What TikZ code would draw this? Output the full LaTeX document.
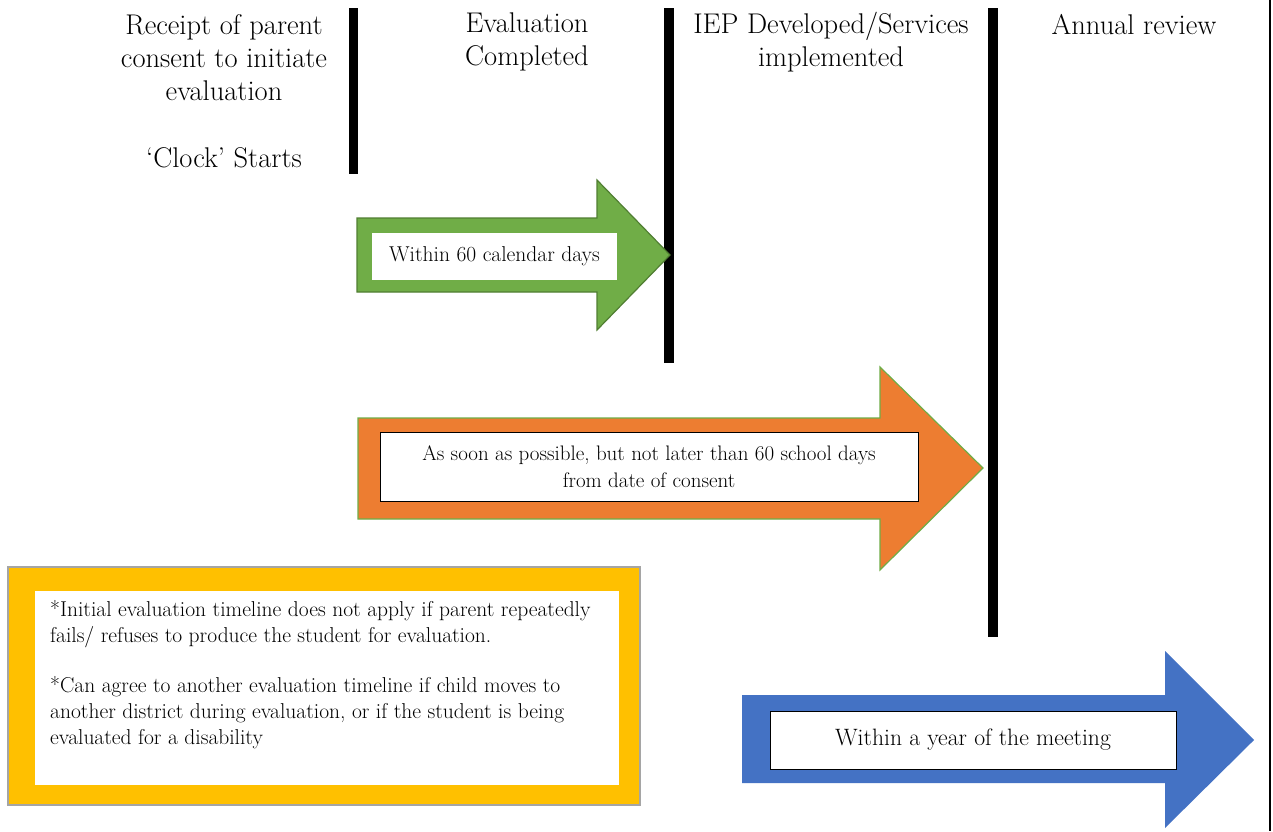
\documentclass[tikz,border=0pt]{standalone}
\usepackage{fontspec}
\definecolor{ggreen}{HTML}{70AD47}
\definecolor{dgreen}{HTML}{507E32}
\definecolor{gorange}{HTML}{ED7D31}
\definecolor{gblue}{HTML}{4472C4}
\definecolor{gyellow}{HTML}{FFC000}
\definecolor{ggray}{HTML}{A5A5A5}
\begin{document}
\begin{tikzpicture}[x=1pt,y=-1pt,
  title/.style={align=center,font=\fontsize{28.5}{33}\selectfont,inner sep=0pt},
  bar/.style={line width=10pt},
  label/.style={fill=white,draw=black,line width=1pt,inner sep=0pt,align=center},
  note/.style={align=left,font=\fontsize{21.5}{26}\selectfont,inner sep=0pt,anchor=north west}]
\useasboundingbox (0,0) rectangle (1273,831);
\fill[white] (0,0) rectangle (1273,831);
% vertical bars
\coordinate (b1t) at (353,8); \coordinate (b1b) at (353,174);
\coordinate (b2t) at (669,8); \coordinate (b2b) at (669,363);
\coordinate (b3t) at (993,8); \coordinate (b3b) at (993,637);
\coordinate (b4t) at (1270,0); \coordinate (b4b) at (1270,831);
\draw[line width=9pt] (b1t) -- (b1b);
\draw[bar] (b2t) -- (b2b);
\draw[bar] (b3t) -- (b3b);
\draw[line width=2pt] (b4t) -- (b4b);
% titles
\node[title] (t1) at (224,58) {Receipt of parent\\consent to initiate\\evaluation};
\node[title] (t1b) at (224,158) {‘Clock’ Starts};
\node[title] (t2) at (527,42) {Evaluation\\Completed};
\node[title] (t3) at (831,42) {IEP Developed/Services\\implemented};
\node[title] (t4) at (1134,25) {Annual review};
% green arrow
\filldraw[fill=ggreen,draw=dgreen,line width=1.2pt]
  (357,218) -- (597,218) -- (597,180) -- (670,255) -- (597,330) -- (597,292) -- (357,292) -- cycle;
\node[fill=white,minimum width=245pt,minimum height=47pt,inner sep=0pt,font=\fontsize{21.5}{25}\selectfont] (g) at (494.5,256.5) {Within 60 calendar days};
% orange arrow
\filldraw[fill=gorange,draw=ggreen,line width=1.2pt]
  (358,418) -- (880,418) -- (880,367) -- (983,468) -- (880,570) -- (880,519) -- (358,519) -- cycle;
\node[label,minimum width=538pt,minimum height=69pt,font=\fontsize{21}{27}\selectfont] (o) at (649,466.5) {As soon as possible, but not later than 60 school days\\from date of consent};
% yellow box
\filldraw[fill=gyellow,draw=ggray,line width=2pt] (8,567) rectangle (640,805);
\fill[white] (35,591) rectangle (619,785);
\node[note] (n1) at (50,600) {*Initial evaluation timeline does not apply if parent repeatedly\\fails/ refuses to produce the student for evaluation.};
\node[note] (n2) at (50,676) {*Can agree to another evaluation timeline if child moves to\\another district during evaluation, or if the student is being\\evaluated for a disability};
% blue arrow
\fill[gblue]
  (742,695) -- (1165,695) -- (1165,651) -- (1254,740) -- (1165,828) -- (1165,783) -- (742,783) -- cycle;
\node[label,minimum width=406pt,minimum height=58pt,font=\fontsize{23.7}{26}\selectfont] (bl) at (973,740) {Within a year of the meeting};
\end{tikzpicture}
\end{document}
